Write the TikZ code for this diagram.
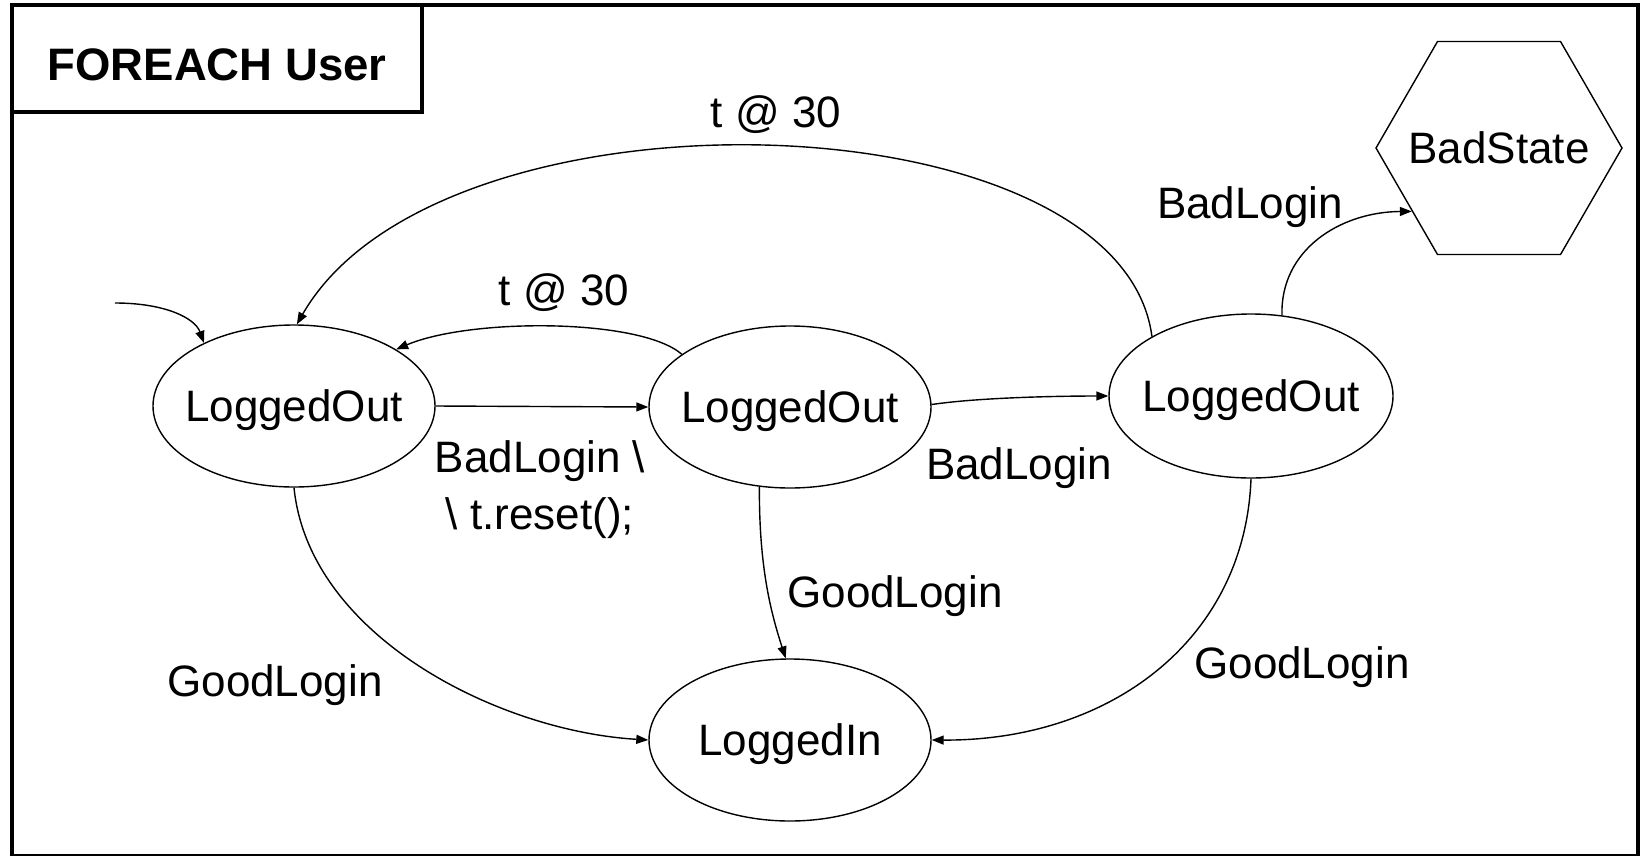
\documentclass[tikz,border=0pt]{standalone}
\usepackage{fontspec}
\setmainfont{Liberation Sans}
\usetikzlibrary{arrows.meta,shapes.geometric}

\begin{document}
\begin{tikzpicture}[x=1pt,y=-1pt,
  every node/.style={font=\fontsize{44}{57}\selectfont},
  state/.style={draw, ellipse, line width=1.4pt, minimum width=282pt,
    minimum height=162pt, inner xsep=-25pt, inner ysep=0pt,
    text height=31.5pt, text depth=0pt},
  badstate/.style={draw, regular polygon, regular polygon sides=6,
    minimum size=246pt, inner sep=-40pt, line width=1.4pt,
    text height=31.5pt, text depth=0pt},
  edge/.style={line width=1.4pt, -{Triangle[length=12pt,width=9pt]}},
  lbl/.style={inner sep=0pt, text height=31.5pt, text depth=0pt},
  lbl2/.style={inner sep=0pt, align=center}
]
\useasboundingbox (0,0) rectangle (1640,855);
\fill[white] (0,0) rectangle (1640,855);

% outer frame and title tab
\draw[line width=4pt] (12,5.3) rectangle (1638,856);
\node[draw, line width=4pt, minimum width=410pt, minimum height=106.5pt,
  inner sep=0pt, font=\bfseries\fontsize{45.5}{56}\selectfont,
  text height=53pt, text depth=10pt] (title) at (217,58.5) {FOREACH User};

% states
\node[state] (A) at (294,406) {LoggedOut};
\node[state] (B) at (790,407) {LoggedOut};
\node[state, minimum width=284pt, minimum height=164pt] (C) at (1251,396) {LoggedOut};
\node[state] (D) at (790,740) {LoggedIn};
\node[badstate] (S) at (1499,148) {BadState};

% initial transition
\coordinate (init) at (115,303);
\draw[edge] (init) .. controls (165,303) and (195,318) .. (A.145);

% timeouts back to the first state
\draw[edge] (C.149) .. controls (1120,95) and (440,75) .. (A.88);
\node[lbl] (t2) at (776,112) {t @ 30};
\draw[edge] (B.154) .. controls (640,318) and (470,318) .. (A.29);
\node[lbl] (t1) at (564,290) {t @ 30};

% bad logins
\draw[edge] (A.east) -- (B.west);
\node[lbl2] (b1) at (540,490) {BadLogin \textbackslash\\\textbackslash{} t.reset();};
\draw[edge] (B.1) .. controls (975,398) and (1050,396) .. (C.west);
\node[lbl] (b2) at (1019,464) {BadLogin};
\draw[edge] (C.69) .. controls (1280,250) and (1340,212) .. (S.216);
\node[lbl] (b3) at (1250,203) {BadLogin};

% good logins
\draw[edge] (A.south) .. controls (309,636) and (498,731) .. (D.west);
\node[lbl] (g1) at (275,681) {GoodLogin};
\draw[edge] (B.249) .. controls (759,565) and (770,610) .. (D.93);
\node[lbl] (g2) at (895,592) {GoodLogin};
\draw[edge] (C.south) .. controls (1245,640) and (1110,741) .. (D.east);
\node[lbl] (g3) at (1302,663) {GoodLogin};
\end{tikzpicture}
\end{document}
